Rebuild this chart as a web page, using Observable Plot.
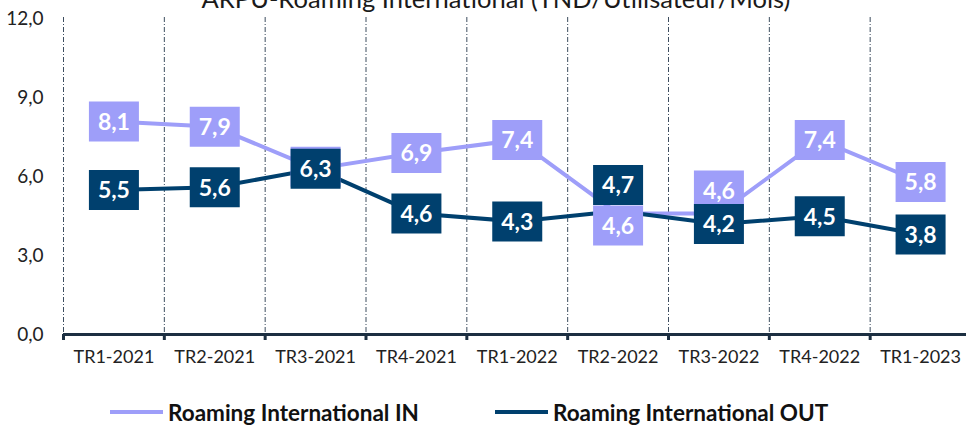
<!DOCTYPE html>
<html>
<head>
<meta charset="utf-8">
<script src="https://cdn.jsdelivr.net/npm/d3@7"></script>
<script src="https://cdn.jsdelivr.net/npm/@observablehq/plot@0.6"></script>
<style>
  html, body { margin: 0; padding: 0; background: #fff; overflow: hidden; }
  body { width: 966px; height: 432px; position: relative; font-family: Lato, "Open Sans", sans-serif; }
  #title { position: absolute; top: -15px; left: 0; width: 992px; text-align: center; font-size: 25.5px; line-height: 26px; color: #1a1a1a; }
  #chart { position: absolute; top: 0; left: 0; }
  #legend { position: absolute; top: 380px; left: 0; width: 966px; height: 52px; display: flex; justify-content: flex-start; align-items: center; gap: 76px; padding-top: 12px; padding-left: 110px; box-sizing: border-box; }
  .item { display: flex; align-items: center; font-weight: bold; font-size: 22.5px; color: #111; white-space: nowrap; }
  .swatch { width: 53px; height: 4px; margin-right: 5px; }
</style>
</head>
<body>
<div id="chart"></div>
<div id="title">ARPU-Roaming International (TND/Utilisateur/Mois)</div>
<div id="legend"></div>
<script>
const categories = ["TR1-2021", "TR2-2021", "TR3-2021", "TR4-2021", "TR1-2022", "TR2-2022", "TR3-2022", "TR4-2022", "TR1-2023"];
const roamingIn = [8.1, 7.9, 6.3, 6.9, 7.4, 4.6, 4.6, 7.4, 5.8];
const roamingOut = [5.5, 5.6, 6.3, 4.6, 4.3, 4.7, 4.2, 4.5, 3.8];
const seriesNames = ["Roaming International IN", "Roaming International OUT"];
const yTicks = [0, 3, 6, 9, 12];

const C_IN = "#9e9ef9";
const C_OUT = "#00406e";

const data = categories.map((c, i) => ({i, cat: c, vin: roamingIn[i], vout: roamingOut[i]}));
const boundaries = d3.range(categories.length + 1).map(k => k - 0.5);
const fmt = v => d3.format(".1f")(v).replace(".", ",");

// label box symbol (fixed pixel size)
const box = {draw(ctx) { ctx.moveTo(-25, -20); ctx.lineTo(25, -20); ctx.lineTo(25, 20); ctx.lineTo(-25, 20); ctx.closePath(); }};

// manual label nudges (pixels), as placed in the original chart
const shiftIn = {"TR3-2021": -2, "TR2-2022": 12, "TR3-2022": -23};
const shiftOut = {"TR2-2022": -26};

function labelMarks(key, color, shifts) {
  const groups = d3.group(data, d => shifts[d.cat] ?? 0);
  const marks = [];
  for (const [dy, rows] of groups) {
    marks.push(Plot.dot(rows, {x: "i", y: key, symbol: box, r: 5, fill: color, stroke: "none", dy}));
    marks.push(Plot.text(rows, {x: "i", y: key, text: d => fmt(d[key]), fill: "white", fontWeight: "bold", fontSize: 23, dy: dy + 1}));
  }
  return marks;
}

const chart = Plot.plot({
  width: 966,
  height: 380,
  marginLeft: 63,
  marginRight: -4.5,
  marginTop: 18.5,
  marginBottom: 46,
  style: {fontFamily: "Lato, 'Open Sans', sans-serif", background: "white", overflow: "visible"},
  x: {domain: [-0.5, categories.length - 0.5], axis: null},
  y: {domain: [0, 12], axis: null},
  marks: [
    Plot.ruleX(boundaries, {x: d => d, stroke: "#3d4d5e", strokeWidth: 1, strokeDasharray: "5,2,1,2", insetTop: -1.5}),
    Plot.axisY({ticks: yTicks, tickFormat: fmt, tickSize: 0, tickPadding: 20, fontSize: 19, fill: "#222", label: null}),
    Plot.axisX({ticks: d3.range(categories.length), tickFormat: i => categories[i], tickSize: 0, tickPadding: 16, fontSize: 18, fill: "#222", label: null}),
    Plot.ruleX(boundaries, {x: d => d, y1: 0, stroke: "#1c2f41", strokeWidth: 3, insetBottom: -6}),
    Plot.ruleY([0], {stroke: "#1c2f41", strokeWidth: 3}),
    Plot.line(data, {x: "i", y: "vin", stroke: C_IN, strokeWidth: 4}),
    Plot.line(data, {x: "i", y: "vout", stroke: C_OUT, strokeWidth: 4}),
    ...labelMarks("vin", C_IN, shiftIn),
    ...labelMarks("vout", C_OUT, shiftOut)
  ]
});
document.getElementById("chart").appendChild(chart);

const legend = document.getElementById("legend");
[[seriesNames[0], C_IN], [seriesNames[1], C_OUT]].forEach(([name, color]) => {
  const item = document.createElement("div");
  item.className = "item";
  const sw = document.createElement("div");
  sw.className = "swatch";
  sw.style.background = color;
  const label = document.createElement("span");
  label.textContent = name;
  item.appendChild(sw);
  item.appendChild(label);
  legend.appendChild(item);
});
</script>
</body>
</html>
